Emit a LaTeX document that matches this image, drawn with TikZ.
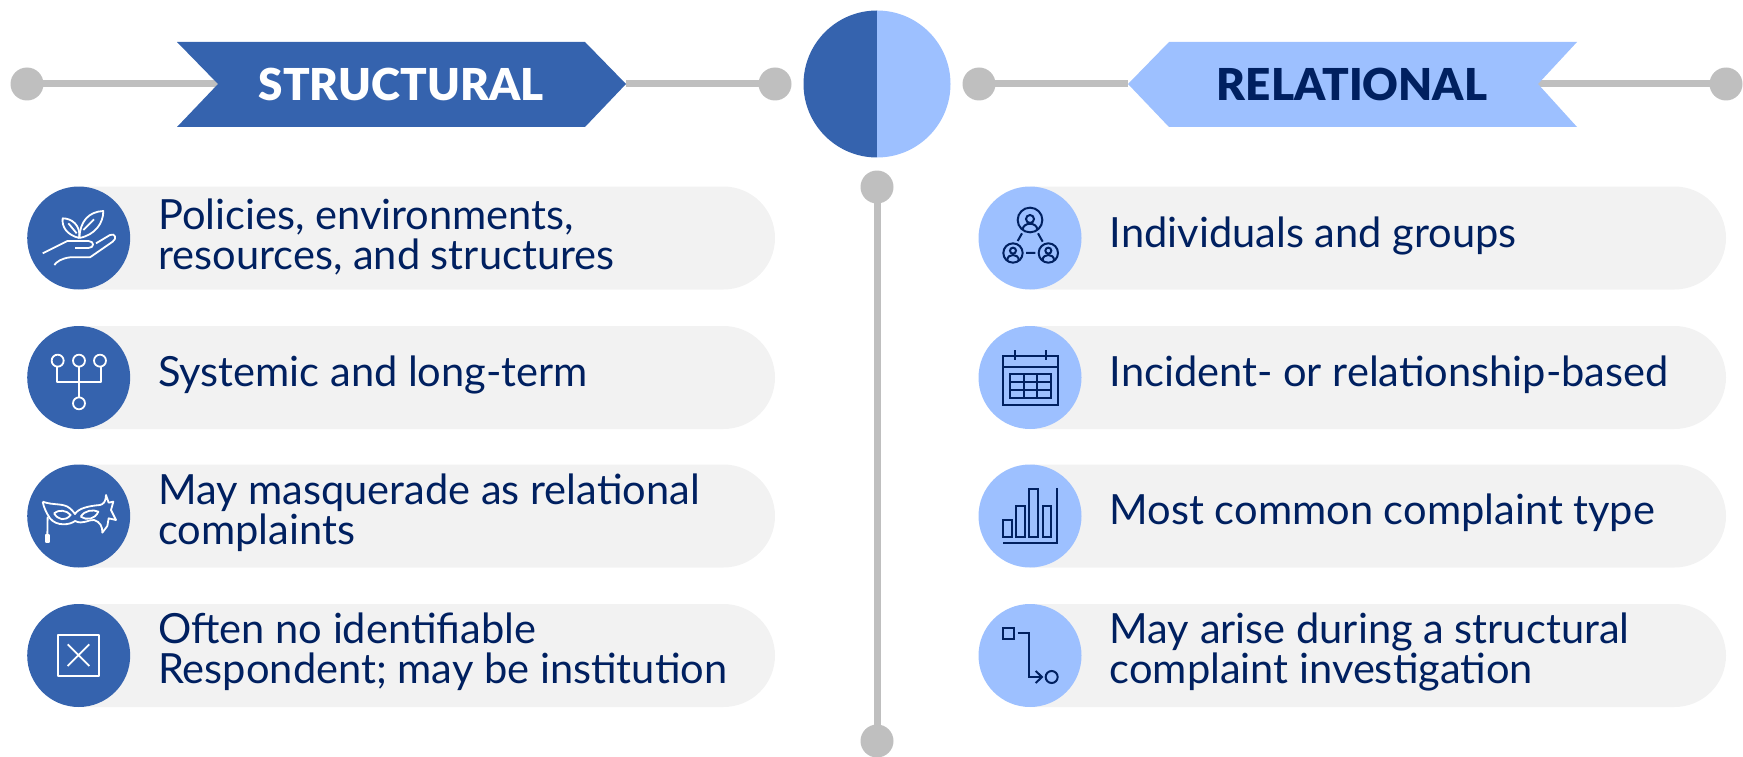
\documentclass[tikz,border=0pt]{standalone}
\usepackage{fontspec}
\setmainfont{Lato}
\newfontfamily\heavy{Lato Black}
\definecolor{dblue}{HTML}{3563AE}
\definecolor{lblue}{HTML}{9DC0FF}
\definecolor{navy}{HTML}{002060}
\definecolor{pillc}{HTML}{F2F2F2}
\definecolor{greyc}{HTML}{BFBFBF}
\tikzset{
 px/.style={x=1pt,y=-1pt},
 dot/.style={circle,fill=greyc,minimum size=33pt,inner sep=0pt},
 conn/.style={draw=greyc,line width=7pt},
 badgeD/.style={circle,fill=dblue,minimum size=103pt,inner sep=0pt},
 badgeL/.style={circle,fill=lblue,minimum size=103pt,inner sep=0pt},
 txt/.style={text=navy,font=\fontsize{41.6}{40}\selectfont,align=left,anchor=west,inner sep=0pt},
 head/.style={font=\fontsize{44}{44}\selectfont\heavy,inner sep=0pt},
 icoW/.style={draw=white,line width=1.8pt,line join=round,fill=none},
 icoN/.style={draw=navy,line width=2pt,line join=miter,fill=none},
 zoomed/.style={x=0.33333pt,y=-0.33333pt},
}
\newcommand{\pillshape}[2]{% left x, centre y
 \path[fill=pillc] (#1,#2-51.5) -- (#1+644.5,#2-51.5) arc[start angle=90,end angle=-90,radius=51.5pt] -- (#1,#2+51.5) -- cycle;}
\begin{document}
\begin{tikzpicture}[px]
\useasboundingbox (0,0) rectangle (1743,757);
% dots
\node[dot] (dA) at (27,84) {};
\node[dot] (dB) at (775,84) {};
\node[dot] (dC) at (979,84) {};
\node[dot] (dD) at (1726,84) {};
\node[dot] (dE) at (877,187) {};
\node[dot] (dF) at (877,741) {};
\coordinate (nA) at (218,84);
\coordinate (tA) at (626,84);
\coordinate (tB) at (1128,84);
\coordinate (nB) at (1538,84);
\draw[conn] (dA.center) -- (nA);
\draw[conn] (tA) -- (dB.center);
\draw[conn] (dC.center) -- (tB);
\draw[conn] (nB) -- (dD.center);
\draw[conn] (dE.center) -- (dF.center);
% banners
\path[fill=dblue] (177,42) -- (585,42) -- (tA) -- (585,127) -- (177,127) -- (nA) -- cycle;
\path[fill=lblue] (1577,42) -- (1169,42) -- (tB) -- (1169,127) -- (1577,127) -- (nB) -- cycle;
\node[head,text=white] (hS) at (401,84) {STRUCTURAL};
\node[head,text=navy] (hR) at (1352,84) {RELATIONAL};
% centre circle
\path[fill=dblue] (877,10.5) arc[start angle=90,end angle=270,radius=73.5pt] -- cycle;
\path[fill=lblue] (877,10.5) arc[start angle=90,end angle=-90,radius=73.5pt] -- cycle;
% pills
\foreach \yy in {238,377.5,516,655.5}{\pillshape{79}{\yy}\pillshape{1030}{\yy}}
\foreach \yy/\nn in {238/a,377.5/b,516/c,655.5/d}{
 \node[badgeD] (bl\nn) at (78.7,\yy) {};
 \node[badgeL] (br\nn) at (1030,\yy) {};
}
% texts
\node[txt] (t1) at (158,237) {Policies, environments,\\resources, and structures};
\node[txt] (t2) at (158,375) {Systemic and long-term};
\node[txt] (t3) at (158,513) {May masquerade as relational\\complaints};
\node[txt] (t4) at (158,652) {Often no identifiable\\Respondent; may be institution};
\node[txt] (t5) at (1109.5,236) {Individuals and groups};
\node[txt] (t6) at (1109.5,375) {Incident- or relationship-based};
\node[txt] (t7) at (1109.5,513) {Most common complaint type};
\node[txt] (t8) at (1109.5,652) {May arise during a structural\\complaint investigation};
% icons
\begin{scope}[xshift=20pt,yshift=-180pt,zoomed]
 \draw[icoW] (178,174) .. controls (140,165) and (125,140) .. (128,115) .. controls (155,115) and (182,135) .. (178,174);
 \draw[icoW] (145,130) -- (170,160);
 \draw[icoW] (178,174) .. controls (180,125) and (205,95) .. (250,93) .. controls (250,130) and (225,165) .. (178,174);
 \draw[icoW] (190,150) -- (222,118);
 \draw[icoW] (68,220) -- (142,183) -- (205,183) .. controls (224,183) and (224,204) .. (205,204) -- (165,204);
 \draw[icoW] (228,190) -- (270,165) .. controls (285,158) and (292,176) .. (278,185) -- (210,232) -- (150,232) .. controls (125,235) and (110,245) .. (103,255);
 \foreach \cx/\cy in {113/542,177/542,240/542,177/670} \draw[icoW] (\cx,\cy) circle[radius=18pt*0.3333];
 \draw[icoW] (111,560) -- (111,605) -- (243,605) -- (243,560);
 \draw[icoW] (177,560) -- (177,652);
\end{scope}
\begin{scope}[xshift=20pt,yshift=-460pt,zoomed]
 \draw[icoW] (68,125) .. controls (100,137) and (130,128) .. (150,145) .. controls (158,152) and (162,158) .. (165,162) .. controls (175,145) and (205,138) .. (240,135) .. controls (250,133) and (258,125) .. (258,105) -- (266,128) -- (280,125) -- (273,150) -- (288,180) -- (266,175) -- (262,198) -- (247,218) .. controls (248,200) and (240,185) .. (222,180) .. controls (205,178) and (190,195) .. (165,183) .. controls (150,195) and (110,200) .. (90,175) .. controls (80,160) and (72,145) .. (68,125);
 \draw[icoW] (102,160) .. controls (115,148) and (140,150) .. (152,165) .. controls (135,185) and (115,180) .. (102,160);
 \draw[icoW] (182,170) .. controls (195,150) and (220,148) .. (235,155) .. controls (225,178) and (200,182) .. (182,170);
 \draw[icoW] (83,170) -- (82,225);
 \draw[icoW,fill=white] (77,225) rectangle (86,247);
 \draw[icoW] (115,525) rectangle (238,648);
 \draw[icoW] (143,553) -- (208,618) (208,553) -- (143,618);
\end{scope}
\begin{scope}[xshift=970pt,yshift=-180pt,zoomed]
 \draw[icoN] (180,120) circle[radius=37pt*0.3333] (129,219) circle[radius=29pt*0.3333] (235,219) circle[radius=29pt*0.3333];
 \draw[icoN] (180,117) circle[radius=12pt*0.3333] (129,212) circle[radius=9pt*0.3333] (235,212) circle[radius=9pt*0.3333];
 \draw[icoN] (158,150) .. controls (158,125) and (202,125) .. (202,150);
 \draw[icoN] (112,240) .. controls (112,220) and (146,220) .. (146,240);
 \draw[icoN] (218,240) .. controls (218,220) and (252,220) .. (252,240);
 \draw[icoN] (156,160) -- (143,183) (204,160) -- (218,185) (168,219) -- (196,219);
 \draw[icoN] (100,527) rectangle (263,675);
 \draw[icoN] (100,561) -- (263,561) (135,511) -- (135,541) (228,511) -- (228,541);
 \draw[icoN] (120,581) rectangle (243,655);
 \draw[icoN] (120,606) -- (243,606) (120,631) -- (243,631) (161,581) -- (161,655) (201,581) -- (201,655);
\end{scope}
\begin{scope}[xshift=970pt,yshift=-460pt,zoomed]
 \draw[icoN] (100,180) rectangle (126,230) (139,138) rectangle (165,230) (178,87) rectangle (204,230) (218,138) rectangle (243,230);
 \draw[icoN] (262,85) -- (262,249) -- (98,249);
 \draw[icoN] (100,505) rectangle (131,536);
 \draw[icoN] (143,520) -- (176,520) -- (176,651) -- (215,651);
 \draw[icoN] (197,633) -- (216,651) -- (197,669);
 \draw[icoN] (245,651) circle[radius=18pt*0.3333];
\end{scope}
\end{tikzpicture}
\end{document}
